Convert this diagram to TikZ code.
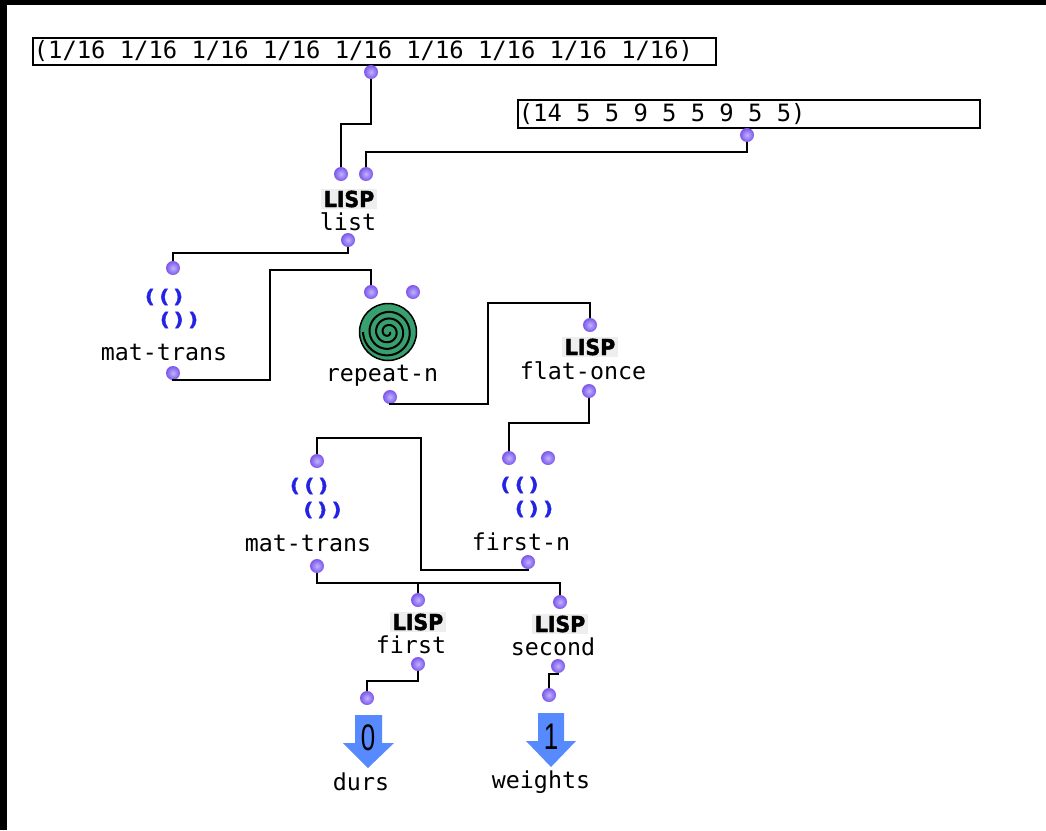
\documentclass[tikz,border=0pt]{standalone}
\usepackage{fontspec}
\newfontfamily\monof{DejaVu Sans Mono}
\newfontfamily\lispf{DejaVu Sans}[BoldFeatures={FakeBold=2}]
\newfontfamily\matf{DejaVu Sans Mono}[BoldFeatures={FakeBold=1.5}]
\newfontfamily\numf{Liberation Sans}
\definecolor{dotc}{RGB}{125,85,235}
\definecolor{dothi}{RGB}{190,180,252}
\definecolor{arrc}{RGB}{88,138,255}
\definecolor{icnc}{RGB}{35,35,230}
\definecolor{spic}{RGB}{55,160,110}
\definecolor{lispbg}{RGB}{238,238,238}
\begin{document}
\begin{tikzpicture}[x=1pt,y=-1pt,
  wire/.style={line width=2pt, black},
  port/.style={circle, inner sep=0pt, minimum size=14pt, shading=radial, inner color=dothi, outer color=dotc},
  listbox/.style={draw=black, line width=1.8pt, fill=white, anchor=north west, inner xsep=1pt, inner ysep=0pt, minimum height=27pt, font=\monof\fontsize{23.8}{26}\selectfont},
  lispicon/.style={fill=lispbg, inner xsep=3pt, inner ysep=2pt, font=\lispf\bfseries\fontsize{22}{22}\selectfont},
  lbl/.style={anchor=base, inner sep=0pt, font=\monof\fontsize{23.3}{26}\selectfont},
  matrow/.style={inner sep=0pt, text=icnc, font=\matf\bfseries\fontsize{18.5}{18.5}\selectfont},
  outarrow/.style={fill=arrc, draw=none},
  num/.style={inner sep=0pt, font=\numf\fontsize{37}{37}\selectfont}
]
\useasboundingbox (0,0) rectangle (1046,830);
\fill[white] (0,0) rectangle (1046,830);
\fill[black] (0,0) rectangle (7,830);
\fill[black] (0,0) rectangle (1046,5);

% list boxes
\node[listbox] (b1) at (32,37) {\makebox[681pt][l]{(1/16 1/16 1/16 1/16 1/16 1/16 1/16 1/16 1/16)}};
\node[listbox, minimum height=28pt] (b2) at (517,99) {\makebox[460pt][l]{(14 5 5 9 5 5 9 5 5)}};
\node[port] (b1o) at (371,72) {};
\node[port] (b2o) at (747,135) {};

% list
\node[port] (l1i) at (341,174) {};
\node[port] (l2i) at (366,174) {};
\node[lispicon] (lic) at (349,199) {\scalebox{0.93}[1]{LISP}};
\node[lbl] (ll) at (348,230) {list};
\node[port] (lo) at (348,240) {};

% mat-trans 1
\node[port] (m1i) at (173,268) {};
\node[matrow] (m1a) at (164,297) {\scalebox{1.3}[1]{(()}};
\node[matrow] (m1b) at (179,320) {\scalebox{1.3}[1]{())}};
\node[lbl] (m1l) at (164,360) {mat-trans};
\node[port] (m1o) at (173,373) {};

% repeat-n
\node[port] (r1i) at (371,292) {};
\node[port] (r2i) at (413,292) {};
\node[circle, fill=spic, draw=black, line width=1.5pt, minimum size=57pt, inner sep=0pt] (rep) at (388,332) {};
\draw[black, line width=2pt] plot[smooth, domain=0:1260, samples=160, variable=\t]
  ({388+(2+\t/1260*23)*cos(\t)}, {332+(2+\t/1260*23)*sin(\t)});
\node[lbl] (rl) at (382,381) {repeat-n};
\node[port] (ro) at (390,397) {};

% flat-once
\node[port] (fi) at (590,325) {};
\node[lispicon] (fic) at (590,347) {\scalebox{0.93}[1]{LISP}};
\node[lbl] (fl) at (583,379) {flat-once};
\node[port] (fo) at (589,391) {};

% first-n
\node[port] (fn1i) at (509,458) {};
\node[port] (fn2i) at (548,458) {};
\node[matrow] (fna) at (519.5,485) {\scalebox{1.3}[1]{(()}};
\node[matrow] (fnb) at (534,509) {\scalebox{1.3}[1]{())}};
\node[lbl] (fnl) at (521,550) {first-n};
\node[port] (fno) at (528,562) {};

% mat-trans 2
\node[port] (m2i) at (317,461) {};
\node[matrow] (m2a) at (309,486) {\scalebox{1.3}[1]{(()}};
\node[matrow] (m2b) at (322.5,510) {\scalebox{1.3}[1]{())}};
\node[lbl] (m2l) at (308,551) {mat-trans};
\node[port] (m2o) at (317,566) {};

% first
\node[port] (f1i) at (418,600) {};
\node[lispicon] (f1c) at (418,622) {\scalebox{0.93}[1]{LISP}};
\node[lbl] (f1l) at (411,653) {first};
\node[port] (f1o) at (418,664) {};

% second
\node[port] (s1i) at (560,602) {};
\node[lispicon] (s1c) at (560,624) {\scalebox{0.93}[1]{LISP}};
\node[lbl] (s1l) at (553,655) {second};
\node[port] (s1o) at (558,666) {};

% outputs
\fill[outarrow] (355,715) -- (382,715) -- (382,743) -- (394,743) -- (368,768) -- (343,743) -- (355,743) -- cycle;
\node[num] (d0) at (368,738) {\scalebox{0.7}[1]{0}};
\node[port] (d1i) at (367,698) {};
\node[lbl] (dl) at (361,790) {durs};

\fill[outarrow] (538,713) -- (564,713) -- (564,741) -- (576,741) -- (551,767) -- (526,741) -- (538,741) -- cycle;
\node[num] (w0) at (551,737) {\scalebox{0.7}[1]{1}};
\node[port] (w1i) at (549,695) {};
\node[lbl] (wl) at (541,788) {weights};

% wires
\draw[wire] (b1o) -- (b1o |- 0,124) -| (l1i);
\draw[wire] (b2o) -- (b2o |- 0,152) -| (l2i);
\draw[wire] (lo) -- (lo |- 0,253) -| (m1i);
\draw[wire] (m1o) -- (m1o |- 0,380) -- (270,380) -- (270,270) -| (r1i);
\draw[wire] (ro) -- (ro |- 0,404) -- (488,404) -- (488,303) -| (fi);
\draw[wire] (fo) -- (fo |- 0,423) -| (fn1i);
\draw[wire] (fno) -- (fno |- 0,570) -- (421,570) -- (421,438) -| (m2i);
\draw[wire] (m2o) -- (m2o |- 0,583) -| (f1i);
\draw[wire] (m2o) -- (m2o |- 0,583) -| (s1i);
\draw[wire] (f1o) -- (f1o |- 0,681) -| (d1i);
\draw[wire] (s1o) -- (s1o |- 0,674) -| (w1i);
\end{tikzpicture}
\end{document}
